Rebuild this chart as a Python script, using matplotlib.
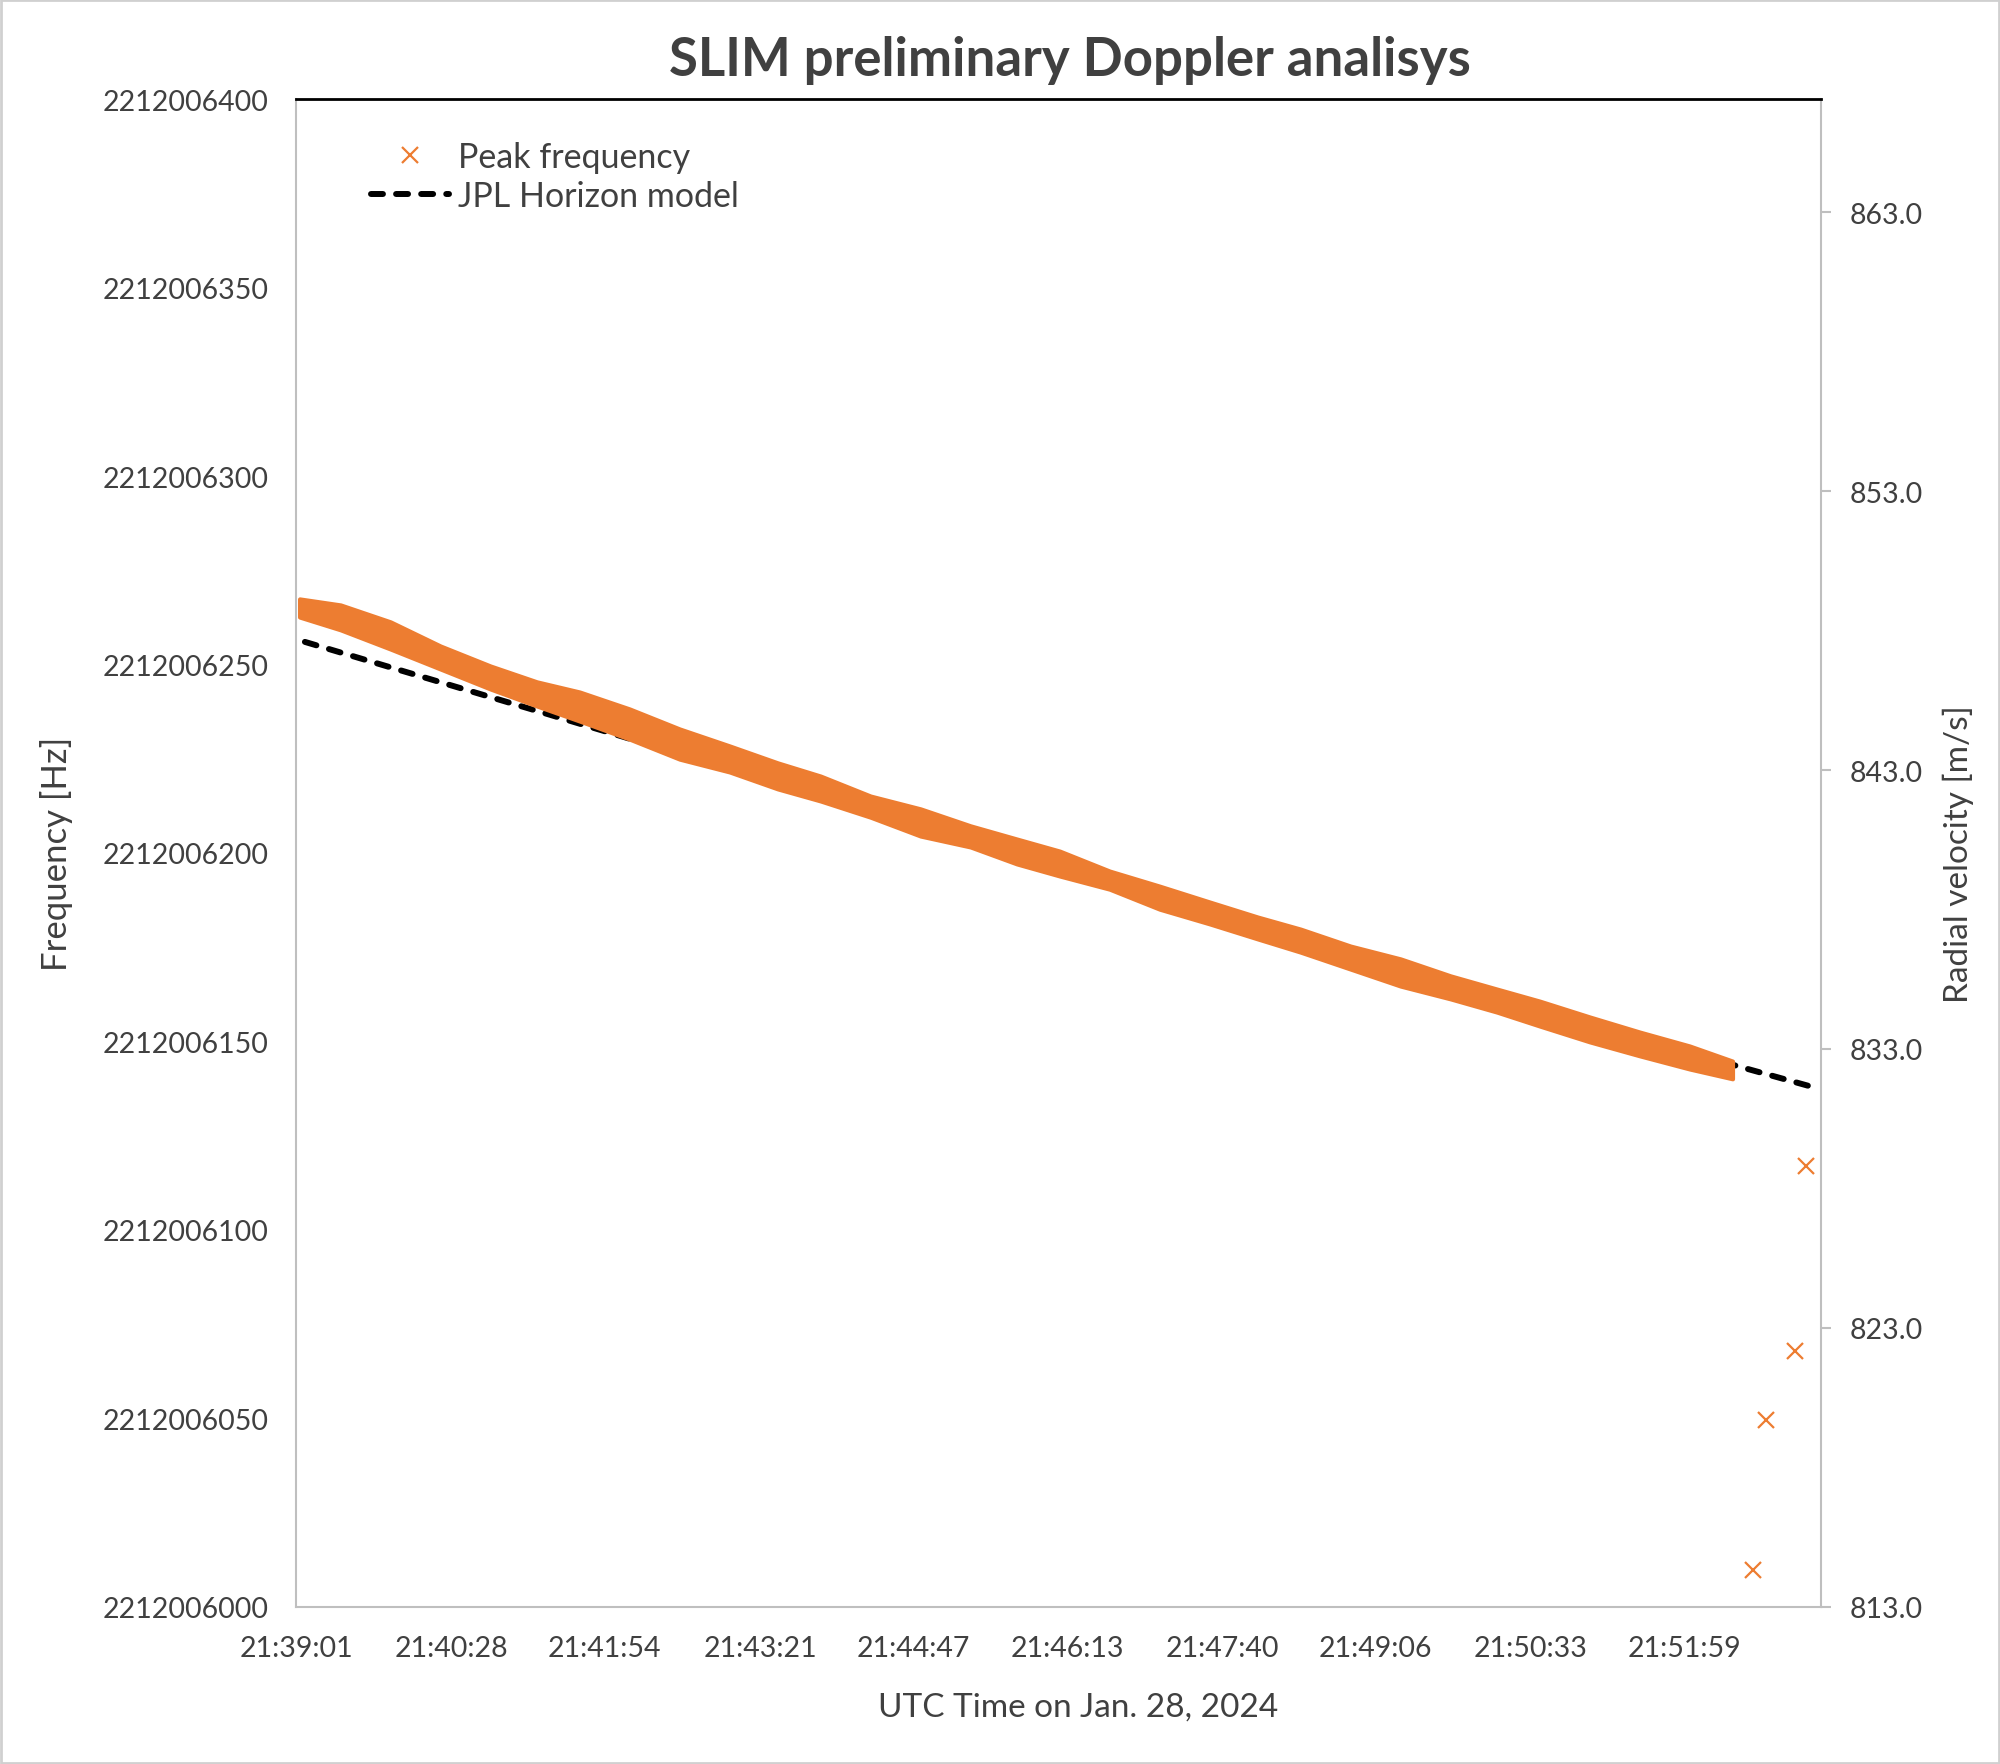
import matplotlib
matplotlib.use("Agg")
import matplotlib.pyplot as plt
from matplotlib.lines import Line2D
from matplotlib.patches import Rectangle
from matplotlib.ticker import FuncFormatter, FixedLocator

plt.rcParams['font.family'] = ['Lato', 'DejaVu Sans']

# ---------------- data ----------------
TITLE = "SLIM preliminary Doppler analisys"
BASE_FREQ = 2212006000            # Hz
time_labels = ["21:39:01", "21:40:28", "21:41:54", "21:43:21", "21:44:47",
               "21:46:13", "21:47:40", "21:49:06", "21:50:33", "21:51:59"]
x_span_s = 854.6                  # seconds shown on the time axis

# dense cloud of "Peak frequency" markers: upper / lower envelope (Hz above BASE_FREQ)
band_t = [2, 25, 53, 81, 109, 135, 159, 187, 215, 243, 270, 294, 322, 350, 378,
          404, 428, 456, 484, 512, 539, 563, 591, 619, 647, 673, 697, 725, 753, 781, 805]
band_upper = [267.4, 265.8, 261.3, 254.9, 249.6, 245.4, 242.7, 238.2, 232.9, 228.4,
              223.9, 220.4, 215.1, 211.7, 207.2, 203.7, 200.5, 195.2, 191.2, 187.0,
              183.0, 179.8, 175.3, 171.9, 167.4, 163.9, 160.7, 156.5, 152.5, 148.8, 144.8]
band_lower = [262.6, 259.2, 254.1, 248.8, 243.5, 239.0, 235.0, 230.2, 224.9, 221.5,
              217.0, 213.8, 209.5, 204.5, 201.6, 197.1, 193.9, 190.4, 185.1, 181.2,
              177.2, 173.7, 169.2, 164.7, 161.3, 157.8, 154.1, 149.9, 146.2, 142.7, 140.1]
# isolated peak-frequency points at the end
outlier_t = [816.5, 823.8, 840.0, 846.2]
outlier_f = [9.8, 49.6, 67.9, 117.0]
# JPL Horizons model
model_t = [5.0, 140.7, 209.6, 428.1, 643.9, 719.6, 807.5, 850.1]
model_f = [256.0, 236.9, 227.1, 196.5, 166.8, 155.7, 143.5, 137.9]

freq_ticks = [2212006000, 2212006050, 2212006100, 2212006150, 2212006200,
              2212006250, 2212006300, 2212006350, 2212006400]
vel_ticks = [813.0, 823.0, 833.0, 843.0, 853.0, 863.0]
vel_limits = (813.0, 867.05)

# ---------------- styling ----------------
ORANGE = "#ED7D31"
TEXT = "#404040"
GRID_GRAY = "#BFBFBF"
DASH = (0, (2.0, 2.2))


def to_seconds(lbl):
    h, m, s = (int(v) for v in lbl.split(":"))
    return h * 3600 + m * 60 + s


t0 = to_seconds(time_labels[0])
tick_pos = [to_seconds(l) - t0 for l in time_labels]

fig = plt.figure(figsize=(20, 17.65), dpi=100)
fig.patches.append(Rectangle((0.0005, 0.0005), 0.999, 0.999, transform=fig.transFigure,
                             fill=False, edgecolor="#D0D0D0", linewidth=2))
ax = fig.add_axes([0.148, 0.0890, 0.7625, 0.8543])

up = [BASE_FREQ + v for v in band_upper]
lo = [BASE_FREQ + v for v in band_lower]
ax.plot(model_t, [BASE_FREQ + v for v in model_f], color="black", lw=4.3,
        ls=DASH, dash_capstyle="round", zorder=2)
ax.fill_between(band_t, lo, up, color=ORANGE, lw=3.0, edgecolor=ORANGE, zorder=3)
ax.plot(outlier_t, [BASE_FREQ + v for v in outlier_f], ls="none", marker="x",
        ms=12, mew=1.6, color=ORANGE, zorder=4)

ax.set_xlim(0, x_span_s)
ax.set_ylim(freq_ticks[0], freq_ticks[-1])
ax.xaxis.set_major_locator(FixedLocator(tick_pos))
ax.set_xticklabels(time_labels)
ax.yaxis.set_major_locator(FixedLocator(freq_ticks))
ax.yaxis.set_major_formatter(FuncFormatter(lambda v, p: f"{v:.0f}"))
ax.tick_params(axis="both", length=0, labelsize=20.5, colors=TEXT)
ax.tick_params(axis="x", pad=20)
ax.tick_params(axis="y", pad=19.5)

for side in ("left", "bottom", "right"):
    ax.spines[side].set_color(GRID_GRAY)
    ax.spines[side].set_linewidth(1.5)
ax.spines["top"].set_color("black")
ax.spines["top"].set_linewidth(2)

ax2 = ax.twinx()
ax2.set_ylim(*vel_limits)
ax2.yaxis.set_major_locator(FixedLocator(vel_ticks))
ax2.yaxis.set_major_formatter(FuncFormatter(lambda v, p: f"{v:.1f}"))
ax2.tick_params(axis="y", length=7, width=1.5, color=GRID_GRAY, labelsize=20.5,
                labelcolor=TEXT, pad=13.6)
for sp in ax2.spines.values():
    sp.set_visible(False)

ax.set_ylabel("Frequency [Hz]", fontsize=25, color=TEXT)
ax.yaxis.set_label_coords(-0.146, 0.5)
ax2.set_ylabel("Radial velocity [m/s]", fontsize=24, color=TEXT)
ax2.yaxis.set_label_coords(1.0795, 0.5)
ax.set_xlabel("UTC Time on Jan. 28, 2024", fontsize=24, color=TEXT)
ax.xaxis.set_label_coords(0.513, -0.056)
fig.text(0.535, 0.966, TITLE, ha="center", va="center", fontsize=38,
         fontweight="bold", color=TEXT)

handles = [Line2D([], [], ls="none", marker="x", ms=12, mew=1.6, color=ORANGE),
           Line2D([], [], color="black", lw=4.3, ls=DASH, dash_capstyle="round")]
leg = ax.legend(handles, ["Peak frequency", "JPL Horizon model"], loc="upper left",
                bbox_to_anchor=(0.029, 0.9926), frameon=False, fontsize=24.5,
                handlelength=2.3, handletextpad=0.25, labelspacing=0.2)
for t in leg.get_texts():
    t.set_color(TEXT)

fig.savefig("out.png", dpi=100, facecolor="white")
